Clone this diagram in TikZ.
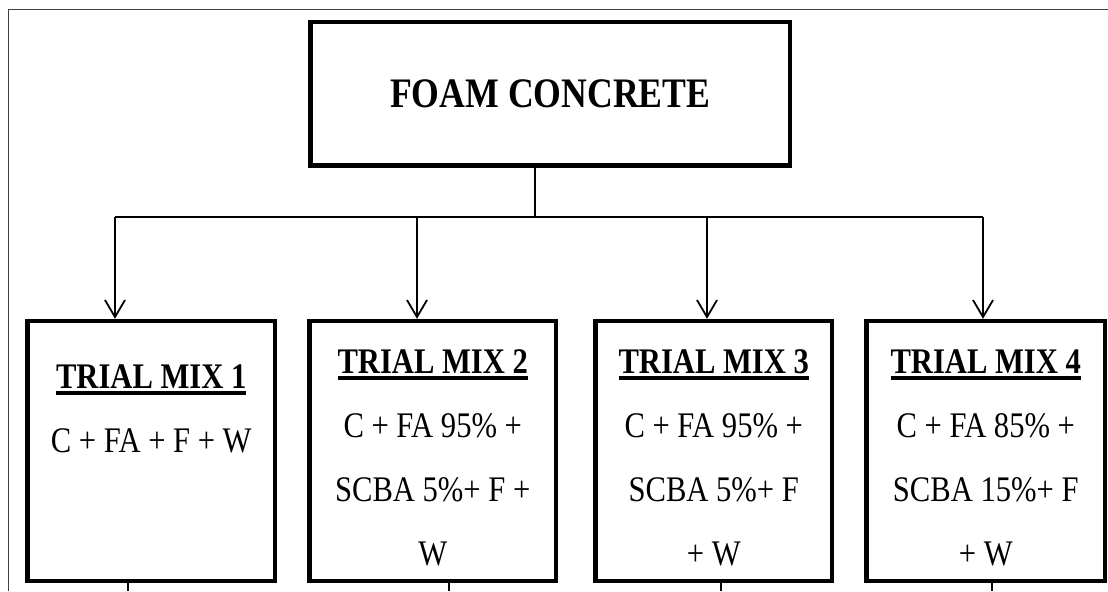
\documentclass[tikz,border=0pt]{standalone}
\usepackage{fontspec}
\setmainfont{Liberation Serif}[FakeStretch=0.85]
\usetikzlibrary{arrows.meta}

\newcommand{\mixtitle}[1]{\setbox0\hbox{\bfseries #1}\rlap{\rule[-3.5pt]{\wd0}{2pt}}\box0}

\begin{document}
\begin{tikzpicture}[x=0.5pt,y=-0.5pt,
    headbox/.style={draw,line width=2.2pt,inner sep=0pt,minimum width=239.75pt,minimum height=71.75pt,
      font=\fontsize{21}{25}\selectfont\bfseries},
    mixbox/.style={draw,line width=2.2pt,inner sep=0pt,minimum height=130pt},
    mixtext/.style={align=center,inner sep=0pt,anchor=base,font=\fontsize{18}{32}\selectfont},
    conn/.style={line width=0.9pt},
    arr/.style={conn,-{Straight Barb[length=8.5pt,width=10pt]}}]
  \useasboundingbox (0,0) rectangle (1108,591);
  % page frame
  \draw[line width=0.5pt,black!75] (8,591) -- (8,9) -- (1108,9);

  \node[headbox] (top) at (550.25,93.75) {FOAM CONCRETE};

  \node[mixbox,minimum width=123.75pt] (b1) at (151.25,451) {};
  \node[mixbox,minimum width=123.25pt] (b2) at (432.75,451) {};
  \node[mixbox,minimum width=118.25pt] (b3) at (713.75,451) {};
  \node[mixbox,minimum width=119.25pt] (b4) at (985.75,451) {};

  % base = baseline of the last line
  \node[mixtext] (m1) at (151.25,452) {\mixtitle{TRIAL MIX 1}\\C + FA + F + W};
  \node[mixtext] (m2) at (432.75,565) {\mixtitle{TRIAL MIX 2}\\C + FA 95\% +\\SCBA 5\%+ F +\\W};
  \node[mixtext] (m3) at (713.75,565) {\mixtitle{TRIAL MIX 3}\\C + FA 95\% +\\SCBA 5\%+ F\\+ W};
  \node[mixtext] (m4) at (985.75,565) {\mixtitle{TRIAL MIX 4}\\C + FA 85\% +\\SCBA 15\%+ F\\+ W};

  % split line
  \coordinate (hub) at (535,217);
  \coordinate (a1) at (115,217);
  \coordinate (a2) at (417,217);
  \coordinate (a3) at (707,217);
  \coordinate (a4) at (983,217);
  \draw[conn] (top.south -| hub) -- (hub);
  \draw[conn] (a1) -- (a4);
  \foreach \i in {1,...,4}
    \draw[arr] (a\i) -- (a\i |- b\i.north);

  % lines running on below the page
  \coordinate (s1) at (128,591);
  \coordinate (s2) at (449,591);
  \coordinate (s3) at (721,591);
  \coordinate (s4) at (992,591);
  \foreach \i in {1,...,4}
    \draw[conn] (s\i |- b\i.south) -- (s\i);
\end{tikzpicture}
\end{document}
